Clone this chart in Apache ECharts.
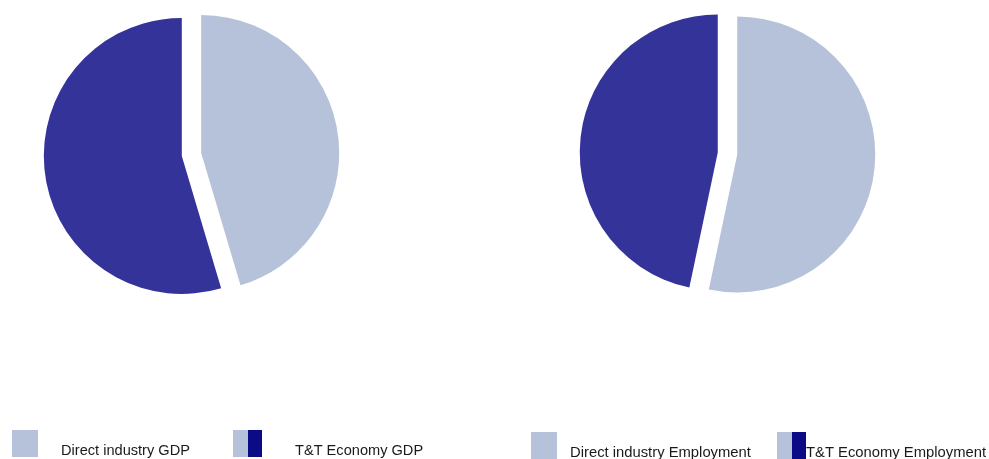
<!DOCTYPE html>
<html>
<head>
<meta charset="utf-8">
<script src="https://cdn.jsdelivr.net/npm/echarts@6/dist/echarts.min.js"></script>
<style>
  html, body { margin: 0; padding: 0; background: #ffffff; }
  #chart { width: 989px; height: 459px; }
</style>
</head>
<body>
<div id="chart"></div>
<script>
// Slice names and shares (%) for each pie: direct industry first, then the rest of the T&T economy
const gdpSlices = ['Direct industry GDP', 'Indirect and induced GDP'];
const gdpShares = [45.4, 54.6];
const employmentSlices = ['Direct industry Employment', 'Indirect and induced Employment'];
const employmentShares = [53.3, 46.7];

// Legend captions under each pie
const gdpLegend = ['Direct industry GDP', 'T&T Economy GDP'];
const employmentLegend = ['Direct industry Employment', 'T&T Economy Employment'];

const LIGHT = '#b5c2d9';
const DARK = '#333399';
const NAVY = '#0b0b86';
const FONT_L = '14.6px "Liberation Sans", Arial, sans-serif';
const FONT_R = '14.8px "Liberation Sans", Arial, sans-serif';
const TEXT = '#1a1a1a';

function pieSeries(names, values, center) {
  return {
    type: 'pie',
    center: center,
    radius: 138,
    startAngle: 90,
    clockwise: true,
    selectedMode: 'multiple',
    selectedOffset: 9.8,
    label: { show: false },
    labelLine: { show: false },
    emphasis: { disabled: true },
    itemStyle: { borderWidth: 0 },
    data: names.map((n, i) => ({
      name: n,
      value: values[i],
      selected: true,
      itemStyle: { color: i === 0 ? LIGHT : DARK }
    }))
  };
}

// Legend block: plain swatch for the direct share, split swatch for the whole T&T economy
function legendBlock(labels, x0, y0, textX0, gap, textX1, textY, font) {
  return [
    { type: 'rect', shape: { x: x0, y: y0, width: 26, height: 27 }, style: { fill: LIGHT } },
    { type: 'text', x: textX0, y: textY, style: { text: labels[0], font: font, fill: TEXT, textVerticalAlign: 'middle' } },
    { type: 'rect', shape: { x: x0 + gap, y: y0, width: 15, height: 27 }, style: { fill: LIGHT } },
    { type: 'rect', shape: { x: x0 + gap + 15, y: y0, width: 14, height: 27 }, style: { fill: NAVY } },
    { type: 'text', x: textX1, y: textY, style: { text: labels[1], font: font, fill: TEXT, textVerticalAlign: 'middle' } }
  ];
}

const chart = echarts.init(document.getElementById('chart'), null, { renderer: 'canvas' });
chart.setOption({
  animation: false,
  backgroundColor: '#ffffff',
  tooltip: { show: false },
  series: [
    pieSeries(gdpSlices, gdpShares, [191.5, 154.5]),
    pieSeries(employmentSlices, employmentShares, [727.5, 153.5])
  ],
  graphic: [
    ...legendBlock(gdpLegend, 12, 430, 61, 221, 295, 451, FONT_L),
    ...legendBlock(employmentLegend, 531, 432, 570, 246, 806, 452.5, FONT_R)
  ]
});
</script>
</body>
</html>
